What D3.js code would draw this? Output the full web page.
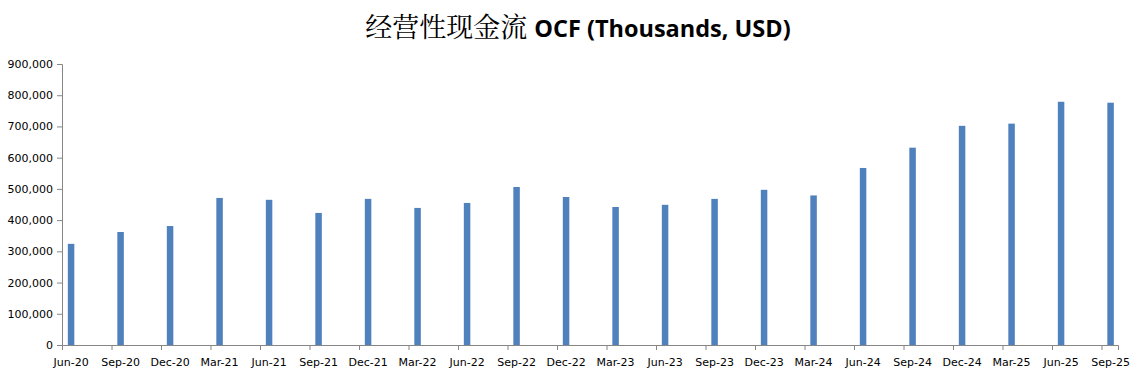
<!DOCTYPE html>
<html>
<head>
<meta charset="utf-8">
<script src="https://cdn.jsdelivr.net/npm/d3@7"></script>
<style>
  body { margin: 0; background: #fff; }
  svg { display: block; }
  .tick text { font-family: "DejaVu Sans", sans-serif; font-size: 11px; fill: #000; }
  .domain, .tick line { stroke: #868686; }
</style>
</head>
<body>
<svg id="chart" width="1137" height="387"></svg>
<script>
const quarters = ["Jun-20", "Sep-20", "Dec-20", "Mar-21", "Jun-21", "Sep-21", "Dec-21", "Mar-22",
  "Jun-22", "Sep-22", "Dec-22", "Mar-23", "Jun-23", "Sep-23", "Dec-23", "Mar-24",
  "Jun-24", "Sep-24", "Dec-24", "Mar-25", "Jun-25", "Sep-25"]
const ocf = [324000, 362000, 381000, 471000, 465000, 423000, 468000, 439000,
  455000, 506000, 474000, 442000, 449000, 468000, 497000, 479000,
  567000, 632000, 702000, 709000, 779000, 776000]
const yTicks = [0, 100000, 200000, 300000, 400000, 500000, 600000, 700000, 800000, 900000]

const svg = d3.select("#chart")
const plotLeft = 62, plotRight = 1118, plotTop = 64, plotBottom = 345

// months since Jun-20, axis runs to end of Sep-25
const x = d3.scaleLinear()
    .domain([0, 64])
    .range([plotLeft, plotRight])

const y = d3.scaleLinear()
    .domain([0, 900000])
    .range([plotBottom, plotTop])

const barW = 6.5
const barOffset = 0.55   // bars sit a little right of the quarter tick

svg.append("text")
    .attr("x", 578)
    .attr("y", 37)
    .attr("text-anchor", "middle")
    .call(t => {
        t.append("tspan")
            .style("font-family", "'Noto Serif CJK SC', 'Noto Sans CJK SC', serif")
            .style("font-size", "27px")
            .text("经营性现金流 ")
        t.append("tspan")
            .style("font-family", "'Open Sans', sans-serif")
            .style("font-weight", "bold")
            .style("font-size", "23.5px")
            .text("OCF (Thousands, USD)")
    })

svg.append("g")
    .attr("transform", `translate(${plotLeft},0)`)
    .call(d3.axisLeft(y).tickValues(yTicks).tickSize(5).tickPadding(4)
        .tickFormat(d3.format(",")))

const xAxis = svg.append("g")
    .attr("transform", `translate(0,${plotBottom})`)
    .call(d3.axisBottom(x).tickValues(quarters.map((d, i) => i * 3)).tickSize(5).tickPadding(0)
        .tickFormat(() => ""))

xAxis.selectAll(".tick").filter((d, i) => i === 0).select("line").remove()

svg.append("g")
    .selectAll("text")
    .data(quarters)
    .enter()
    .append("text")
    .attr("x", (d, i) => x(i * 3 + barOffset))
    .attr("y", plotBottom + 21)
    .attr("text-anchor", "middle")
    .style("font-family", "'DejaVu Sans', sans-serif")
    .style("font-size", "11px")
    .text(d => d)

svg.append("g")
    .selectAll("rect")
    .data(ocf)
    .enter()
    .append("rect")
    .attr("x", (d, i) => x(i * 3 + barOffset) - barW / 2)
    .attr("y", d => y(d))
    .attr("width", barW)
    .attr("height", d => plotBottom - y(d))
    .attr("fill", "#4F81BD")
</script>
</body>
</html>
